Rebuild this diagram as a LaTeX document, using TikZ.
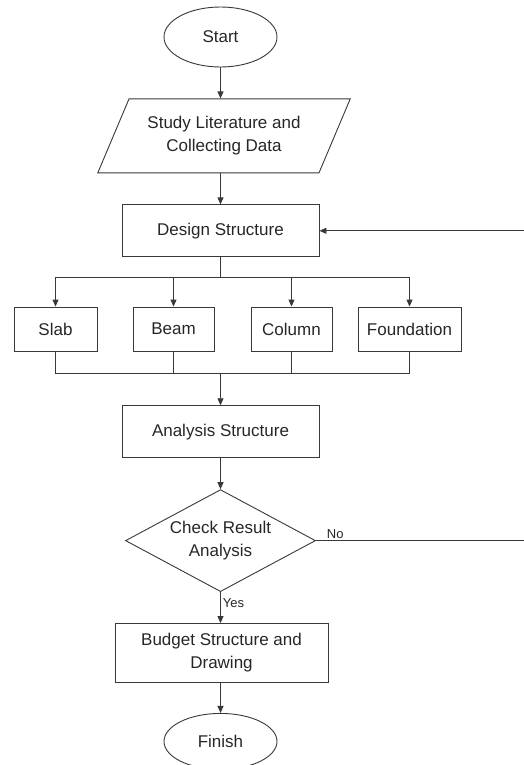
\documentclass[tikz,border=0pt]{standalone}
\usepackage{fontspec}
\setmainfont{Liberation Sans}
\usetikzlibrary{positioning, shapes.geometric, arrows.meta}

\begin{document}
\begin{tikzpicture}[x=1pt, y=-1pt,
     line width = 0.9pt, color=black!78,
              > = {Triangle[length=7pt,width=6pt]},
every node/.style = {font=\fontsize{17}{23}\selectfont, text=black!85, align=center},
   terminal/.style = {ellipse, draw, minimum width=113pt, minimum height=#1},
        box/.style = {rectangle, draw, minimum width=#1},
         io/.style = {trapezium, trapezium left angle=60, trapezium right angle=120,
                      trapezium stretches=true, draw,
                      minimum width=253pt, minimum height=74pt},
   decision/.style = {diamond, draw, aspect=1.86, inner sep=0pt,
                      minimum width=190pt, minimum height=102pt},
      small/.style = {font=\fontsize{13}{15}\selectfont, inner sep=2pt}
                        ]
\useasboundingbox (0,0) rectangle (524,765);
\node (start) [terminal=60pt] at (220.5,37) {Start};
\node (study) [io, below=31pt of start, xshift=3.5pt] {Study Literature and\\ Collecting Data};
\node (design) [box=197pt, minimum height=52pt, below=31pt of study, xshift=-3.5pt] {Design Structure};
\node (slab) [box=83pt, minimum height=44pt] at (55.5,329) {Slab};
\node (beam) [box=81pt, minimum height=44pt] at (173.5,329) {Beam};
\node (column) [box=81pt, minimum height=44pt] at (291.5,329) {Column};
\node (foundation) [box=103pt, minimum height=44pt] at (409.5,329) {Foundation};
\node (analysis) [box=197pt, minimum height=52pt, below=148pt of design] {Analysis Structure};
\node (check) [decision, below=31pt of analysis] {Check Result\\ Analysis};
\node (budget) [box=213pt, minimum height=59pt, below=31pt of check, xshift=1pt] {Budget Structure and\\ Drawing};
\node (finish) [terminal=56pt, below=30pt of budget, xshift=-1pt] {Finish};
\coordinate (split) at (220.5,277);
\coordinate (join) at (220.5,373);
\draw[->] (start) -- (start |- study.north);
\draw[->] (study.south -| design) -- (design);
\draw (design) -- (split);
\draw[->] (split) -| (slab);
\draw[->] (split) -| (beam);
\draw[->] (split) -| (column);
\draw[->] (split) -| (foundation);
\draw (slab) |- (join);
\draw (beam) |- (join);
\draw (column) |- (join);
\draw (foundation) |- (join);
\draw[->] (join) -- (analysis);
\draw[->] (analysis) -- (check);
\draw[->] (check) -- node[small, right, pos=0.35] {Yes} (check |- budget.north);
\draw[->] (budget.south -| finish) -- (finish);
\draw[->] (check.east) -- node[small, above right, pos=0.04] {No} ++(214,0) |- (design.east);
\end{tikzpicture}
\end{document}
